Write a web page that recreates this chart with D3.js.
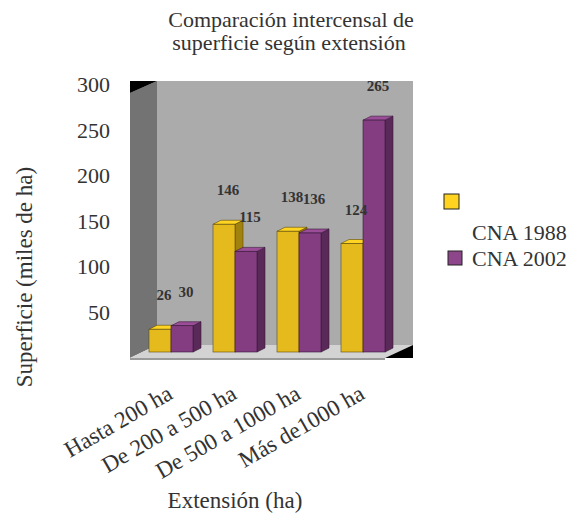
<!DOCTYPE html>
<html>
<head>
<meta charset="utf-8">
<script src="https://cdn.jsdelivr.net/npm/d3@7"></script>
<style>
  body { margin: 0; background: #fff; }
  text { font-family: "Liberation Serif", "Times New Roman", serif; fill: #333; }
</style>
</head>
<body>
<svg id="chart" width="579" height="518"></svg>
<script>
// Data
const categories = ["Hasta 200 ha", "De 200 a 500 ha", "De 500 a 1000 ha", "Más de1000 ha"];
const seriesNames = ["CNA 1988", "CNA 2002"];
const values1988 = [26, 146, 138, 124];
const values2002 = [30, 115, 136, 265];
const yTicks = [50, 100, 150, 200, 250, 300];

const series = [
  { name: seriesNames[0], values: values1988, front: "#E4BA1C", top: "#FFD422", side: "#A2820F", stroke: "#5E4C08", legend: "#FFD320" },
  { name: seriesNames[1], values: values2002, front: "#843D80", top: "#9B4D97", side: "#592A57", stroke: "#35183A", legend: "#8E468B" }
];

const svg = d3.select("#chart");

// 3D box geometry (front plane / back plane)
const box = { fl: 130, fb: 358, bl: 157, bb: 345, top: 81, br: 413, fr: 385 };

// Walls and floor
svg.append("polygon").attr("points", [[box.bl, box.top], [box.br, box.top], [box.br, box.bb], [box.bl, box.bb]].join(" "))
  .attr("fill", "#ABABAB");
svg.append("polygon").attr("points", [[box.fl, box.top + 12], [box.bl, box.top], [box.bl, box.bb], [box.fl, box.fb]].join(" "))
  .attr("fill", "#737373");
svg.append("polygon").attr("points", [[box.fl, box.top], [box.bl, box.top], [box.fl, box.top + 12]].join(" "))
  .attr("fill", "#000");
svg.append("polygon").attr("points", [[box.fl, box.fb], [box.bl, box.bb], [box.br, box.bb], [box.fr, box.fb]].join(" "))
  .attr("fill", "#D3D3D3");
svg.append("polygon").attr("points", [[box.fr, box.fb], [box.br, box.bb], [box.br, box.fb]].join(" "))
  .attr("fill", "#000");
svg.append("rect").attr("x", box.fl).attr("y", box.fb).attr("width", box.fr - box.fl).attr("height", 2)
  .attr("fill", "#9A9A9A");

// Scales
const x0 = d3.scaleBand().domain(categories).range([149, 385]).paddingInner(0.3125).paddingOuter(0);
const x1 = d3.scaleBand().domain(seriesNames).range([0, x0.bandwidth()]);
const baseY = 352;
const y = d3.scaleLinear().domain([0, 300]).range([baseY, 89.5]);
const yAxisScale = d3.scaleLinear().domain([0, 300]).range([357.5, 84.5]);
const bar = { dx: 8, dy: -4 };

// Bars
const barsG = svg.append("g");
categories.forEach((cat, i) => {
  series.forEach(s => {
    const v = s.values[i];
    const x = x0(cat) + x1(s.name);
    const w = x1.bandwidth();
    const yt = y(v);
    const g = barsG.append("g");
    g.append("polygon")
      .attr("points", [[x + w, yt], [x + w + bar.dx, yt + bar.dy], [x + w + bar.dx, baseY + bar.dy], [x + w, baseY]].join(" "))
      .attr("fill", s.side).attr("stroke", s.stroke).attr("stroke-width", 0.6);
    g.append("polygon")
      .attr("points", [[x, yt], [x + bar.dx, yt + bar.dy], [x + w + bar.dx, yt + bar.dy], [x + w, yt]].join(" "))
      .attr("fill", s.top).attr("stroke", s.stroke).attr("stroke-width", 0.6);
    g.append("rect")
      .attr("x", x).attr("y", yt).attr("width", w).attr("height", baseY - yt)
      .attr("fill", s.front).attr("stroke", s.stroke).attr("stroke-width", 0.6);
  });
});

// Value labels
const labelsG = svg.append("g");
categories.forEach((cat, i) => {
  series.forEach(s => {
    const v = s.values[i];
    labelsG.append("text")
      .attr("x", x0(cat) + x1(s.name) + x1.bandwidth() / 2 + 4)
      .attr("y", y(v) - 29)
      .attr("text-anchor", "middle")
      .attr("font-size", 15)
      .attr("font-weight", "bold")
      .text(v);
  });
});

// Y axis labels
const yAxis = svg.append("g").attr("transform", "translate(110,0)")
  .call(d3.axisLeft(yAxisScale).tickValues(yTicks).tickSize(0).tickPadding(0));
yAxis.select(".domain").remove();
yAxis.selectAll("text").attr("font-size", 22).attr("fill", "#333")
  .style("font-family", "'Liberation Serif', 'Times New Roman', serif");

// X category labels
categories.forEach(cat => {
  const cx = x0(cat) + x0.bandwidth() / 2 + 3;
  svg.append("text")
    .attr("transform", `translate(${cx},398) rotate(-30)`)
    .attr("text-anchor", "end")
    .attr("font-size", 23)
    .text(cat);
});

// Titles
const title = svg.append("text").attr("text-anchor", "middle").attr("font-size", 22);
title.append("tspan").attr("x", 291).attr("y", 27).text("Comparación intercensal de");
title.append("tspan").attr("x", 289).attr("y", 50).text("superficie según extensión");

svg.append("text")
  .attr("transform", "translate(32,277) rotate(-90)")
  .attr("text-anchor", "middle").attr("font-size", 23)
  .text("Superficie (miles de ha)");

svg.append("text")
  .attr("x", 235).attr("y", 508)
  .attr("text-anchor", "middle").attr("font-size", 23)
  .text("Extensión (ha)");

// Legend
const legend = svg.append("g");
legend.append("rect").attr("x", 444).attr("y", 194).attr("width", 15).attr("height", 15)
  .attr("fill", series[0].legend).attr("stroke", "#222").attr("stroke-width", 1);
legend.append("text").attr("x", 472).attr("y", 240).attr("font-size", 22).text(series[0].name);
legend.append("rect").attr("x", 448).attr("y", 251).attr("width", 14).attr("height", 14)
  .attr("fill", series[1].legend).attr("stroke", "#222").attr("stroke-width", 1);
legend.append("text").attr("x", 472).attr("y", 266).attr("font-size", 22).text(series[1].name);
</script>
</body>
</html>
